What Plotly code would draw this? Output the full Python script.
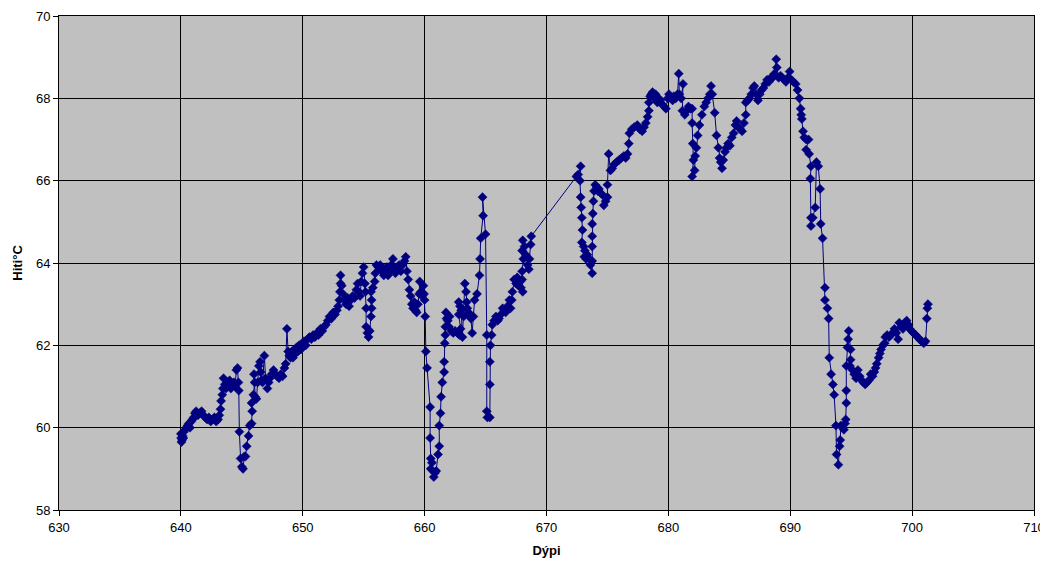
import plotly.graph_objects as go

depth = [
640.0, 640.02, 640.05, 640.1, 640.15, 640.2, 640.25, 640.35, 640.45, 640.55, 640.65, 640.75, 640.85, 640.95,
641.05, 641.15, 641.25, 641.4, 641.55, 641.7, 641.85, 642.0, 642.15, 642.3, 642.45, 642.6, 642.75, 642.9,
643.05, 643.15, 643.25, 643.3, 643.4, 643.45, 643.5, 643.6, 643.7, 643.8, 643.9, 644.0, 644.1, 644.2, 644.35,
644.45, 644.55, 644.65, 644.72, 644.75, 644.8, 644.9, 645.0, 645.1, 645.2, 645.3, 645.4, 645.55, 645.65, 645.8,
645.85, 645.8, 645.95, 646.05, 646.0, 646.1, 646.2, 646.3, 646.4, 646.5, 646.55, 646.6, 646.7, 646.85, 646.95,
647.1, 647.2, 647.3, 647.45, 647.6, 647.75, 647.9, 648.05, 648.2, 648.35, 648.5, 648.6, 648.7, 648.8, 648.9,
649.0, 649.1, 649.2, 649.3, 649.4, 649.5, 649.6, 649.7, 649.85, 650.0, 650.1, 650.25, 650.4, 650.55,
650.7, 650.85, 651.0, 651.15, 651.3, 651.45, 651.6, 651.75, 651.9, 652.05, 652.2, 652.35, 652.5, 652.65, 652.8,
652.9, 653.0, 653.05, 653.1, 653.1, 653.2, 653.3, 653.4, 653.55, 653.7, 653.8, 653.95, 654.1, 654.25, 654.4,
654.5, 654.6, 654.7, 654.8, 654.9, 655.0, 655.1, 655.15, 655.2, 655.2, 655.3, 655.4, 655.5, 655.6, 655.65,
655.65, 655.6, 655.75, 655.9, 655.95, 656.05, 656.2, 656.35, 656.5, 656.65, 656.75, 656.9, 657.0, 657.1, 657.25,
657.4, 657.5, 657.6, 657.75, 657.9, 658.05, 658.2, 658.35, 658.45, 658.55, 658.65, 658.75, 658.85, 658.95,
659.05, 659.15, 659.25, 659.35, 659.45, 659.55, 659.6, 659.7, 659.8, 659.9, 659.95, 660.0, 660.05, 660.1,
660.2, 660.45, 660.45, 660.5, 660.6, 660.5, 660.75, 660.85, 660.95, 661.1, 661.2, 661.2, 661.3, 661.35, 661.45,
661.6, 661.6, 661.65, 661.7, 661.7, 661.8, 661.75, 661.9, 662.05, 662.0, 662.2, 662.35, 662.5, 662.7, 662.85,
662.95, 662.8, 662.8, 662.9, 663.0, 663.1, 663.2, 663.3, 663.4, 663.45, 663.5, 663.6, 663.7, 663.8, 663.9,
664.0, 664.1, 664.3, 664.5, 664.55, 664.6, 664.8, 664.75, 665.0, 665.1, 665.1, 665.15, 665.35, 665.35, 665.35,
665.4, 665.5, 665.55, 665.7, 665.85, 666.0, 666.1, 666.25, 666.4, 666.55, 666.65, 666.8, 666.95, 667.05, 667.15,
667.2, 667.35, 667.5, 667.6, 667.7, 667.85, 667.9, 668.05, 668.0, 668.0, 668.1, 668.0, 668.05, 668.2, 668.3,
668.45, 668.55, 668.6, 668.7, 668.75,
672.45, 672.6, 672.8, 672.75, 672.8, 672.85, 672.9, 672.95, 672.9, 673.05, 673.15, 673.1, 673.25, 673.35,
673.5, 673.6, 673.75, 673.75, 673.75, 673.75, 673.75, 673.8, 673.85, 673.9, 674.0, 674.1, 674.2, 674.3, 674.45,
674.6, 674.7, 674.85, 675.0, 675.0, 675.1, 675.25, 675.4, 675.55, 675.75, 675.95, 676.15, 676.35, 676.5, 676.65,
676.75, 676.8, 677.0, 677.2, 677.45, 677.65, 677.85, 678.0, 678.15, 678.3, 678.4, 678.4, 678.5, 678.6, 678.7,
678.85, 678.95, 679.1, 679.2, 679.35, 679.5, 679.65, 679.8, 679.95, 680.05, 680.2, 680.35, 680.45, 680.6,
680.75, 680.85, 680.9, 681.05, 681.2, 681.15, 681.35, 681.5, 681.65, 681.8, 681.95, 681.95, 682.0, 682.05,
681.95, 682.15, 682.2, 682.3, 682.4, 682.55, 682.75, 682.95, 683.1, 683.25, 683.4, 683.5, 683.6, 683.8, 683.95,
684.1, 684.2, 684.3, 684.4, 684.5, 684.65, 684.75, 684.9, 685.05, 685.2, 685.35, 685.5, 685.6, 685.75, 685.9,
686.05, 686.2, 686.35, 686.35, 686.5, 686.65, 686.8, 686.95, 687.05, 687.2, 687.35, 687.5, 687.65, 687.8, 687.95,
688.1, 688.25, 688.4, 688.55, 688.7, 688.85, 688.9, 689.05, 689.2, 689.35, 689.5, 689.65, 689.8, 689.95, 690.1,
690.25, 690.45, 690.6, 690.75, 690.85, 690.9, 690.95, 691.05, 691.15, 691.3, 691.5, 691.3, 691.55, 691.7, 691.65,
691.7, 691.7, 691.85, 692.05, 692.15, 692.3, 692.45, 692.5, 692.65, 692.85, 692.85, 693.05, 693.15, 693.2,
693.35, 693.5, 693.6, 693.75, 693.8, 693.95, 694.05, 694.1, 694.15, 694.3, 694.4, 694.5, 694.55, 694.6, 694.6,
694.6, 694.7, 694.75, 694.8, 694.95, 694.95, 694.9, 695.1, 695.25, 695.4, 695.55, 695.7, 695.85, 696.0, 696.15,
696.3, 696.45, 696.6, 696.75, 696.9, 697.0, 697.1, 697.25, 697.35, 697.45, 697.6, 697.75, 697.8, 697.95, 698.1,
698.25, 698.4, 698.55, 698.7, 698.85, 698.95, 699.1, 699.25, 699.4, 699.55, 699.7, 699.8, 699.95, 700.1, 700.3,
700.45, 700.6, 700.8, 700.95, 701.1, 701.2, 701.25, 701.3,
]

temp = [
59.85, 59.75, 59.65, 59.7, 59.8, 59.75, 59.9, 59.95, 60.0, 60.05, 60.1, 60.0, 60.15, 60.2,
60.25, 60.35, 60.4, 60.3, 60.35, 60.4, 60.3, 60.25, 60.2, 60.25, 60.15, 60.2, 60.25, 60.15,
60.2, 60.3, 60.45, 60.65, 60.8, 60.95, 61.2, 61.05, 60.95, 61.1, 61.0, 61.15, 60.95, 61.05, 61.1,
61.0, 61.4, 61.45, 61.1, 60.9, 59.9, 59.25, 59.05, 59.0, 59.3, 59.3, 59.55, 59.8, 60.05, 60.1,
60.4, 60.6, 60.8, 61.1, 61.3, 60.75, 60.7, 61.1, 61.5, 61.6, 61.35, 61.15, 61.1, 61.75, 61.2,
60.95, 61.1, 61.2, 61.3, 61.4, 61.3, 61.25, 61.2, 61.3, 61.25, 61.45, 61.55, 62.4, 61.85, 61.75,
61.7, 61.85, 61.7, 61.9, 61.8, 61.95, 61.85, 62.0, 61.9, 62.05, 62.1, 62.0, 62.15, 62.2,
62.15, 62.25, 62.2, 62.3, 62.25, 62.4, 62.35, 62.45, 62.5, 62.6, 62.7, 62.65, 62.8, 62.75, 62.85,
62.95, 63.1, 63.3, 63.5, 63.7, 63.45, 63.25, 63.1, 63.0, 63.15, 62.95, 63.1, 63.2, 63.15, 63.35,
63.5, 63.3, 63.2, 63.55, 63.75, 63.9, 63.5, 63.3, 62.9, 62.45, 62.3, 62.2, 62.35, 62.7, 62.9,
63.1, 63.3, 63.4, 63.55, 63.75, 63.95, 63.9, 63.95, 63.8, 63.7, 63.85, 63.9, 63.7, 63.8, 63.95,
64.1, 63.9, 63.75, 63.85, 63.95, 63.8, 63.95, 64.05, 64.15, 63.8, 63.6, 63.35, 63.2, 63.0,
62.9, 63.05, 62.85, 62.8, 63.0, 63.25, 63.55, 63.3, 63.2, 63.45, 63.25, 63.1, 62.7, 61.85,
61.45, 60.5, 59.75, 59.25, 59.15, 59.0, 58.8, 58.9, 58.95, 59.35, 59.55, 60.05, 60.35, 60.75, 61.1,
61.35, 61.6, 62.05, 62.25, 62.45, 62.65, 62.8, 62.6, 62.7, 62.45, 62.35, 62.3, 62.35, 62.3, 62.25,
62.4, 62.75, 63.05, 62.95, 62.85, 62.2, 62.7, 63.5, 63.3, 63.05, 62.9, 62.8, 62.75, 62.65, 62.3,
62.7, 63.1, 63.25, 63.7, 64.1, 64.6, 65.15, 65.6, 64.7, 62.25, 60.4, 60.25, 60.25, 61.05, 61.6,
62.0, 62.25, 62.5, 62.6, 62.7, 62.6, 62.65, 62.75, 62.9, 62.85, 62.8, 62.95, 63.1, 62.9, 63.1,
63.3, 63.6, 63.5, 63.65, 63.45, 63.55, 63.4, 63.3, 63.6, 63.8, 64.1, 64.3, 64.55, 64.4, 64.2,
63.95, 63.85, 64.1, 64.45, 64.65,
66.1, 66.15, 66.35, 66.0, 65.6, 65.35, 65.1, 64.8, 64.5, 64.4, 64.3, 64.15, 64.1, 64.2,
64.1, 63.95, 63.75, 64.05, 64.4, 64.65, 64.95, 65.2, 65.5, 65.75, 65.9, 65.85, 65.75, 65.8, 65.7,
65.65, 65.4, 65.5, 65.6, 65.9, 66.65, 66.25, 66.3, 66.4, 66.45, 66.5, 66.55, 66.6, 66.55, 66.65,
66.9, 67.15, 67.25, 67.3, 67.35, 67.25, 67.2, 67.3, 67.4, 67.55, 67.7, 67.9, 68.05, 68.1, 68.15,
68.0, 68.1, 67.9, 68.0, 67.95, 67.85, 67.8, 67.75, 68.0, 68.1, 68.0, 67.95, 68.05, 68.0,
68.1, 68.6, 68.1, 68.0, 68.35, 67.7, 67.6, 67.7, 67.8, 67.75, 67.75, 67.4, 66.9, 66.5,
66.1, 66.25, 66.6, 66.8, 67.1, 67.35, 67.6, 67.8, 67.9, 68.0, 68.1, 68.3, 68.1, 67.65, 67.1,
66.8, 66.55, 66.45, 66.3, 66.5, 66.7, 66.8, 66.9, 66.85, 67.05, 67.15, 67.35, 67.45, 67.3, 67.25,
67.2, 67.4, 67.6, 67.9, 67.95, 68.0, 68.1, 68.25, 68.3, 68.1, 67.95, 68.1, 68.2, 68.25, 68.35,
68.45, 68.4, 68.5, 68.5, 68.6, 68.95, 68.75, 68.5, 68.55, 68.5, 68.45, 68.4, 68.5, 68.65, 68.45,
68.4, 68.35, 68.2, 68.0, 67.75, 67.6, 67.5, 67.2, 67.05, 67.0, 67.0, 66.75, 66.65, 66.35, 66.05,
65.1, 64.9, 65.1, 65.35, 66.45, 66.35, 65.8, 64.95, 64.6, 63.4, 63.1, 62.9, 62.65, 61.7,
61.3, 61.05, 60.8, 60.05, 59.35, 59.1, 59.55, 59.7, 60.05, 60.0, 59.95, 60.1, 60.2, 60.6, 60.9,
61.5, 61.95, 62.15, 62.35, 61.9, 61.65, 61.5, 61.4, 61.3, 61.2, 61.4, 61.25, 61.15, 61.1, 61.05,
61.1, 61.15, 61.3, 61.25, 61.35, 61.45, 61.55, 61.7, 61.8, 61.9, 62.0, 62.05, 62.2, 62.25, 62.2,
62.25, 62.3, 62.4, 62.3, 62.15, 62.55, 62.45, 62.4, 62.55, 62.6, 62.5, 62.4, 62.35, 62.3, 62.25,
62.2, 62.15, 62.1, 62.05, 62.1, 62.65, 62.9, 63.0,
]

x_ticks = [630, 640, 650, 660, 670, 680, 690, 700, 710]
y_ticks = [58, 60, 62, 64, 66, 68, 70]

navy = "#000080"
font_family = "Arial, Liberation Sans, sans-serif"

fig = go.Figure()
fig.add_trace(go.Scatter(
    x=depth, y=temp, mode="lines+markers",
    line=dict(color=navy, width=1),
    marker=dict(symbol="diamond", size=7, color=navy, line=dict(color=navy, width=0.5)),
    showlegend=False,
))

fig.update_layout(
    width=1040, height=557,
    margin=dict(l=51, r=14, t=8, b=55),
    paper_bgcolor="white",
    plot_bgcolor="#C0C0C0",
    font=dict(family=font_family, size=13, color="black"),
    xaxis=dict(
        range=[630, 710], tickvals=x_ticks, ticktext=[str(v) for v in x_ticks],
        showgrid=True, gridcolor="black", gridwidth=1,
        showline=True, linecolor="black", linewidth=1, mirror=True,
        ticks="outside", ticklen=5, tickcolor="black",
        zeroline=False, automargin=False, ticklabeloverflow="allow",
        title=dict(text="<b>Dýpi</b>", font=dict(size=13, family=font_family), standoff=12),
        tickfont=dict(size=13),
    ),
    yaxis=dict(
        range=[58, 70], tickvals=y_ticks, ticktext=[str(v) for v in y_ticks],
        showgrid=True, gridcolor="black", gridwidth=1,
        showline=True, linecolor="black", linewidth=1, mirror=True,
        ticks="outside", ticklen=5, tickcolor="black",
        zeroline=False, automargin=False, ticklabeloverflow="allow",
        title=dict(text="<b>Hiti°C</b>", font=dict(size=13, family=font_family), standoff=10),
        tickfont=dict(size=13),
    ),
)

fig.write_html("out.html")
